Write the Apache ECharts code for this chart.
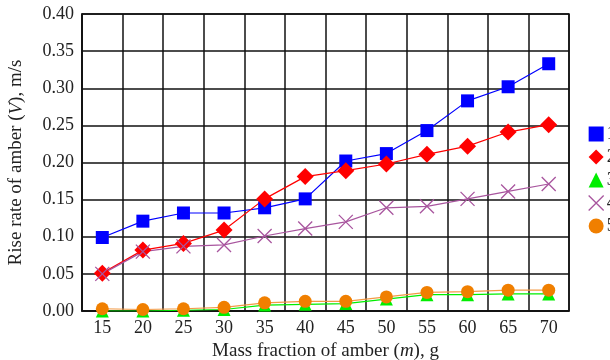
<!DOCTYPE html>
<html><head><meta charset="utf-8">
<script src="https://cdn.jsdelivr.net/npm/echarts@6/dist/echarts.min.js"></script>
<style>html,body{margin:0;padding:0;background:#fff}#c{width:610px;height:360px}</style>
</head><body><div id="c"></div>
<script>
var categories = ['15','20','25','30','35','40','45','50','55','60','65','70'];
var s1 = [0.099,0.121,0.132,0.132,0.139,0.151,0.202,0.212,0.243,0.283,0.302,0.333];
var s2 = [0.051,0.082,0.091,0.109,0.151,0.181,0.189,0.198,0.211,0.222,0.241,0.251];
var s3 = [0.000,0.000,0.001,0.002,0.008,0.009,0.010,0.016,0.022,0.022,0.023,0.023];
var s4 = [0.050,0.080,0.087,0.089,0.101,0.111,0.120,0.139,0.141,0.151,0.161,0.171];
var s5 = [0.003,0.002,0.003,0.005,0.011,0.013,0.013,0.019,0.025,0.026,0.028,0.028];
var names = ['1','2','3','4','5'];
var yTicks = [0,0.05,0.1,0.15,0.2,0.25,0.3,0.35,0.4];

var FONT = '"Liberation Serif", "Times New Roman", serif';
var xPath = 'path://M0,0L20,20M20,0L0,20';
var chart = echarts.init(document.getElementById('c'), null, {renderer:'canvas'});
function ser(name, data, color, symbol, size, lineColor){
  return {
    name: name, type: 'line', data: data, symbol: symbol, symbolSize: size,
    showSymbol: true, animation: false,
    lineStyle: {color: lineColor || color, width: 1.2},
    itemStyle: symbol === xPath ? {color: 'rgba(0,0,0,0)', borderColor: color, borderWidth: 1.3} : {color: color, borderWidth: 0}
  };
}
chart.setOption({
  animation: false,
  backgroundColor: '#fff',
  grid: {left: 82, right: 41, top: 14, bottom: 49, containLabel: false, outerBoundsMode: 'none',
    show: true, borderColor: '#111', borderWidth: 1.5},
  legend: {
    orient: 'vertical', left: 583, top: 120, itemGap: 5, itemWidth: 15, itemHeight: 15,
    textStyle: {fontFamily: FONT, fontSize: 18, color: '#222', padding: [0,0,0,-2]},
    data: [
      {name: '1', icon: 'rect'},
      {name: '2', icon: 'diamond'},
      {name: '3', icon: 'triangle'},
      {name: '4', icon: xPath, itemStyle: {color: 'rgba(0,0,0,0)', borderColor: '#a8559e', borderWidth: 1.3}},
      {name: '5', icon: 'circle'}
    ]
  },
  xAxis: {
    type: 'category', data: categories, boundaryGap: true,
    axisLine: {show: true, lineStyle: {color: '#111', width: 1.5}},
    axisTick: {show: false},
    axisLabel: {fontFamily: FONT, fontSize: 18, color: '#222', margin: 8, interval: 0},
    splitLine: {show: true, interval: 0, lineStyle: {color: '#111', width: 1.5}},
    name: 'Mass fraction of amber ({i|m}), g', nameLocation: 'middle', nameGap: 28,
    nameTextStyle: {fontFamily: FONT, fontSize: 19, color: '#222', verticalAlign: 'top',
      rich: {i: {fontFamily: FONT, fontSize: 19, fontStyle: 'italic', color: '#222'}}}
  },
  yAxis: {
    type: 'value', min: yTicks[0], max: yTicks[yTicks.length-1], interval: 0.05,
    axisLine: {show: true, lineStyle: {color: '#111', width: 1.5}},
    axisTick: {show: false},
    axisLabel: {fontFamily: FONT, fontSize: 18, color: '#222', margin: 8, formatter: function(v){return v.toFixed(2);}},
    splitLine: {show: true, lineStyle: {color: '#111', width: 1.5}},
    name: 'Rise rate of amber ({i|V}), m/s', nameLocation: 'middle', nameGap: 56,
    nameTextStyle: {fontFamily: FONT, fontSize: 19, color: '#222',
      rich: {i: {fontFamily: FONT, fontSize: 19, fontStyle: 'italic', color: '#222'}}}
  },
  series: [
    ser(names[0], s1, '#0000ff', 'rect', 13),
    ser(names[1], s2, '#ff0000', 'diamond', 17),
    ser(names[2], s3, '#00ee00', 'triangle', 13),
    ser(names[3], s4, '#a8559e', xPath, 14),
    ser(names[4], s5, '#f07f00', 'circle', 13, '#f39a45')
  ]
});
</script></body></html>
